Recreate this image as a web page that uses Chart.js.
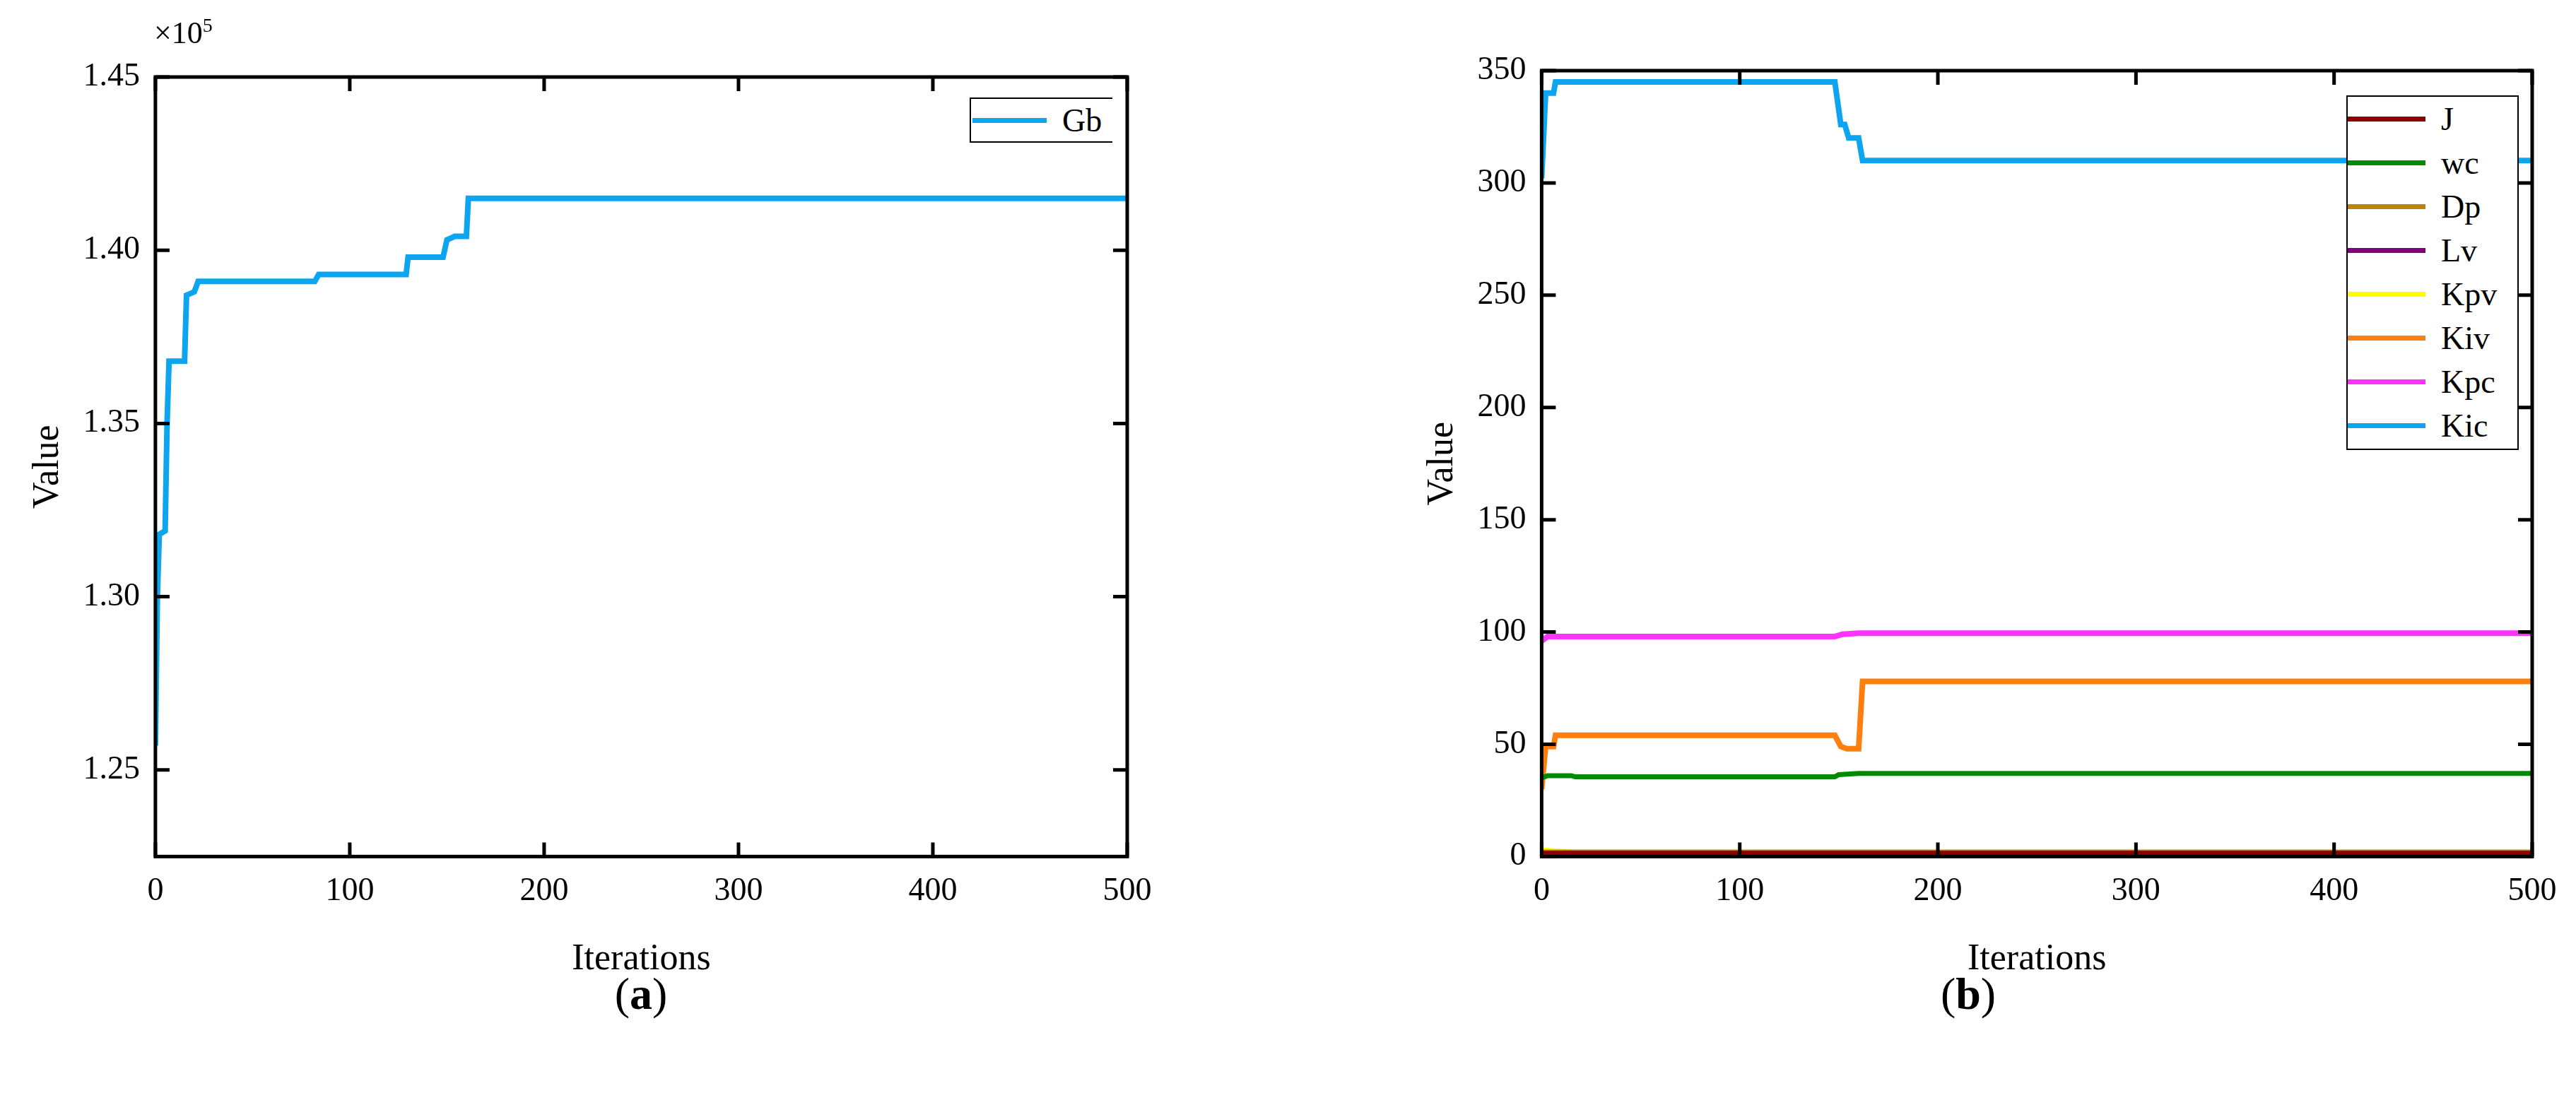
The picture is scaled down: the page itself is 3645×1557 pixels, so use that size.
<!DOCTYPE html>
<html><head><meta charset="utf-8">
<script src="https://cdn.jsdelivr.net/npm/chart.js@4"></script>
<style>
body{margin:0;width:3645px;height:1557px;background:#fff;position:relative;overflow:hidden;font-family:"Liberation Serif",serif}
.box{position:absolute}
.cap{position:absolute;font-family:"Liberation Serif",serif;font-size:64px;transform:translateX(-50%)}
.leg{position:absolute;border:2px solid #000;border-right-width:2px;background:#fff;font-family:"Liberation Serif",serif;font-size:46px}
.li{display:flex;align-items:center;height:62px}
.li span.l{display:inline-block;width:110px;height:7px;margin-right:22px}
</style></head><body>
<div class="box" style="left:0;top:0;width:1700px;height:1400px"><canvas id="c1"></canvas></div>
<div class="box" style="left:1850px;top:0;width:1795px;height:1400px"><canvas id="c2"></canvas></div>
<div style="position:absolute;left:218px;top:20px;font-size:44px;font-family:'Liberation Serif'">×10<sup style="font-size:28px">5</sup></div>
<div class="cap" style="left:907px;top:1370px">(<b>a</b>)</div>
<div class="cap" style="left:2785px;top:1370px">(<b>b</b>)</div>
<div class="leg" style="left:1372px;top:138px;width:200px;height:60px;border-right:none"><div class="li" style="height:60px"><span class="l" style="background:#0ea5f0;width:105px;margin-left:2px"></span>Gb</div></div>
<div class="leg" id="leg2" style="left:3320px;top:135px;width:240px;height:498px;padding-top:0"></div>
<script>
// Panel (a): Gb (×1e5)
const gbIter = [0,1,2,5,6,7,15,16,20,22,82,84,129,130,148,150,154,160,161,500];
const gbVal  = [1.257,1.30,1.318,1.319,1.35,1.368,1.368,1.387,1.388,1.391,1.391,1.393,1.393,1.398,1.398,1.403,1.404,1.404,1.415,1.415];

// Panel (b)
const seriesNames = ['J','wc','Dp','Lv','Kpv','Kiv','Kpc','Kic'];
const seriesColors = ['#8b0000','#008a00','#b8860b','#7f007f','#ffff00','#ff7f0e','#ff33ff','#0ea5f0'];
const jIter=[0,500], jVal=[1.5,1.5];
const wcIter=[0,3,15,17,148,150,160,500], wcVal=[35,36,36,35.5,35.5,36.5,37,37];
const dpIter=[0,500], dpVal=[2,2];
const lvIter=[0,500], lvVal=[1,1];
const kpvIter=[0,15,17,500], kpvVal=[3,2,0.5,0.5];
const kivIter=[0,2,6,7,148,151,154,160,162,500], kivVal=[30,49,49,54,54,49,48,48,78,78];
const kpcIter=[0,3,148,152,160,500], kpcVal=[96,98,98,99,99.5,99.5];
const kicIter=[0,2,6,7,148,151,153,155,160,162,500], kicVal=[302,340,340,345,345,326,326,320,320,310,310];

const xTicks=[0,100,200,300,400,500];
const yTicksA=[1.25,1.30,1.35,1.40,1.45];
const yTicksB=[0,50,100,150,200,250,300,350];

const pts=(xs,ys)=>xs.map((x,i)=>({x,y:ys[i]}));
const FONT={family:'"Liberation Serif", serif',size:46};
const TFONT={family:'"Liberation Serif", serif',size:52};

const frame={id:'frame',afterDraw(ch){
  const {ctx,chartArea:a,scales:{x,y}}=ch;
  ctx.save();ctx.strokeStyle='#000';ctx.lineWidth=5;
  ctx.strokeRect(a.left,a.top,a.right-a.left,a.bottom-a.top);
  const L=20;
  ch.options.xt.forEach(v=>{const p=x.getPixelForValue(v);
    ctx.beginPath();ctx.moveTo(p,a.bottom);ctx.lineTo(p,a.bottom-L);ctx.moveTo(p,a.top);ctx.lineTo(p,a.top+L);ctx.stroke();});
  ch.options.yt.forEach(v=>{const p=y.getPixelForValue(v);
    ctx.beginPath();ctx.moveTo(a.left,p);ctx.lineTo(a.left+L,p);ctx.moveTo(a.right,p);ctx.lineTo(a.right-L,p);ctx.stroke();});
  ctx.restore();}};

function opts(ymin,ymax,yt,fmt,pad){
  return {responsive:false,animation:false,xt:xTicks,yt:yt,
    layout:{padding:pad},
    plugins:{legend:{display:false},tooltip:{enabled:false}},
    elements:{point:{radius:0},line:{borderWidth:8,tension:0}},
    scales:{
      x:{type:'linear',min:0,max:500,grid:{display:false},border:{display:false},
        afterBuildTicks:s=>{s.ticks=xTicks.map(v=>({value:v}))},
        ticks:{font:FONT,color:'#000',maxRotation:0,padding:14},
        title:{display:true,text:'Iterations',font:TFONT,color:'#000',padding:{top:24}}},
      y:{min:ymin,max:ymax,grid:{display:false},border:{display:false},
        afterBuildTicks:s=>{s.ticks=yt.map(v=>({value:v}))},
        ticks:{font:FONT,color:'#000',padding:14,callback:fmt},
        title:{display:true,text:'Value',font:TFONT,color:'#000'}}
    }};
}
function mk(id,w,h,datasets,o){
  const c=document.getElementById(id);c.width=w;c.height=h;
  new Chart(c,{type:'line',data:{datasets},options:o,plugins:[frame]});
}
mk('c1',1700,1400,[{data:pts(gbIter,gbVal),borderColor:'#0ea5f0'}],
  opts(1.225,1.45,yTicksA,v=>v.toFixed(2),{left:33,top:109,right:105,bottom:6}));

const allB=[[jIter,jVal],[wcIter,wcVal],[dpIter,dpVal],[lvIter,lvVal],[kpvIter,kpvVal],[kivIter,kivVal],[kpcIter,kpcVal],[kicIter,kicVal]];
const dsB=allB.map((s,i)=>({data:pts(s[0],s[1]),borderColor:seriesColors[i],borderWidth:i>=5?8:7}));
mk('c2',1795,1400,dsB,opts(0,350,yTicksB,v=>String(v),{left:156,top:100,right:62,bottom:6}));

const leg=document.getElementById('leg2');
seriesNames.forEach((n,i)=>{const d=document.createElement('div');d.className='li';
  d.innerHTML='<span class="l" style="background:'+seriesColors[i]+'"></span>'+n;leg.appendChild(d);});
</script></body></html>
